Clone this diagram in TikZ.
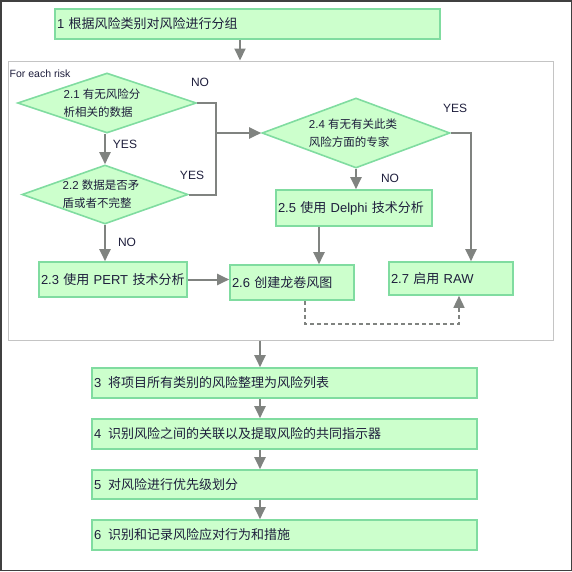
\documentclass[tikz,border=0pt]{standalone}
\usepackage{fontspec}
\setmainfont{Liberation Sans}
\newfontfamily\cjk{Noto Sans CJK SC}
\newcommand\zh[1]{{\cjk #1}}
\usetikzlibrary{shapes.geometric,arrows.meta,calc}
\definecolor{boxfill}{HTML}{CCFFCC}
\definecolor{boxline}{HTML}{80DCA0}
\definecolor{conn}{HTML}{808380}
\definecolor{framec}{HTML}{C4C4C4}
\definecolor{txt}{HTML}{1E1E3C}
\definecolor{outer}{HTML}{404040}
\begin{document}
\begin{tikzpicture}[x=1pt,y=-1pt,
  stepbox/.style={draw=boxline,fill=boxfill,line width=1.6pt,rectangle,inner xsep=2pt,inner ysep=0pt,align=left,text=txt,font=\fontsize{13}{15}\selectfont},
  decision/.style={draw=boxline,fill=boxfill,line width=1.6pt,diamond,inner sep=0pt},
  dtext/.style={align=left,text=txt,font=\fontsize{11.5}{18}\selectfont,inner sep=0pt},
  lbl/.style={text=txt,font=\fontsize{12}{14}\selectfont,inner sep=0pt},
  arr/.style={draw=conn,line width=2pt,-{Triangle[length=12pt,width=11pt]}},
  conline/.style={draw=conn,line width=2pt},
]
\useasboundingbox (0,0) rectangle (572,571);
\draw[draw=outer,line width=1.5pt] (0.75,0.75) rectangle (571.25,570.25);

% frame
\node[draw=framec,line width=1pt,minimum width=545pt,minimum height=279pt,inner sep=0pt] (frame) at (280.5,200.5) {};
\node[anchor=west,text=txt,font=\fontsize{10.5}{12}\selectfont,inner sep=0pt] (fer) at (9.5,74) {For each risk};

% boxes
\node[stepbox,minimum width=385pt,minimum height=30pt,text width=381pt] (b1) at (247.5,24) {1 \zh{根据风险类别对风险进行分组}};

\node[decision,minimum width=179pt,minimum height=60pt] (d21) at (107,103) {};
\node[dtext] (t21) at ([xshift=-5pt]d21.center) {2.1 \zh{有无风险分}\\\zh{析相关的数据}};

\node[decision,minimum width=166pt,minimum height=59pt] (d22) at (105,194.5) {};
\node[dtext] (t22) at ([xshift=-4pt]d22.center) {2.2 \zh{数据是否矛}\\\zh{盾或者不完整}};

\node[decision,minimum width=188pt,minimum height=70pt] (d24) at (356,133) {};
\node[dtext] (t24) at ([xshift=-3pt]d24.center) {2.4 \zh{有无有关此类}\\\zh{风险方面的专家}};

\node[stepbox,minimum width=148pt,minimum height=35pt,text width=144pt] (b23) at (113,279.5) {2.3 \zh{使用} PERT \zh{技术分析}};
\node[stepbox,minimum width=156pt,minimum height=36pt,text width=152pt] (b25) at (354,208) {2.5 \zh{使用} Delphi \zh{技术分析}};
\node[stepbox,minimum width=124pt,minimum height=35pt,text width=120pt] (b26) at (292,282.5) {2.6 \zh{创建龙卷风图}};
\node[stepbox,minimum width=124pt,minimum height=33pt,text width=120pt] (b27) at (451,278.5) {2.7 \zh{启用} RAW};

\node[stepbox,minimum width=385pt,minimum height=30pt,text width=381pt] (b3) at (284.5,383) {3\hspace{7pt}\zh{将项目所有类别的风险整理为风险列表}};
\node[stepbox,minimum width=385pt,minimum height=30pt,text width=381pt] (b4) at (284.5,434) {4\hspace{7pt}\zh{识别风险之间的关联以及提取风险的共同指示器}};
\node[stepbox,minimum width=385pt,minimum height=29pt,text width=381pt] (b5) at (284.5,484.5) {5\hspace{7pt}\zh{对风险进行优先级划分}};
\node[stepbox,minimum width=385pt,minimum height=30pt,text width=381pt] (b6) at (284.5,535) {6\hspace{7pt}\zh{识别和记录风险应对行为和措施}};

% labels
\node[lbl] (l1) at (200,82) {NO};
\node[lbl] (l2) at (125,144) {YES};
\node[lbl] (l3) at (192,175) {YES};
\node[lbl] (l4) at (127,242) {NO};
\node[lbl] (l5) at (455,108) {YES};
\node[lbl] (l6) at (390,178) {NO};

% connectors
\coordinate (jx) at (216,133);
\draw[arr] ([xshift=-7.5pt]b1.south) -- ([xshift=-7.5pt]b1.south |- frame.north);
\draw[arr] (d21.south -| d22.north) -- (d22.north);
\draw[conline] (d21.east) -| (jx) |- (d22.east);
\draw[arr] (jx) -- (d24.west);
\draw[arr] (d22.south) -- (d22.south |- b23.north);
\draw[arr] (b23.east) -- (b23.east -| b26.west);
\draw[arr] (d24.south) -- (d24.south |- b25.north);
\draw[arr] (d24.east) -| ([xshift=20pt]b27.north);
\draw[arr] ([xshift=-35pt]b25.south) -- ([xshift=-35pt]b25.south |- b26.north);
\draw[arr,line width=1.5pt,dash pattern=on 4pt off 3pt] ([xshift=13pt]b26.south) -- ++(0,23) -| ([xshift=8pt]b27.south);
\draw[arr] ([xshift=-24.5pt]b3.north |- frame.south) -- ([xshift=-24.5pt]b3.north);
\draw[arr] ([xshift=-24.5pt]b3.south) -- ([xshift=-24.5pt]b4.north);
\draw[arr] ([xshift=-24.5pt]b4.south) -- ([xshift=-24.5pt]b5.north);
\draw[arr] ([xshift=-24.5pt]b5.south) -- ([xshift=-24.5pt]b6.north);
\end{tikzpicture}
\end{document}
